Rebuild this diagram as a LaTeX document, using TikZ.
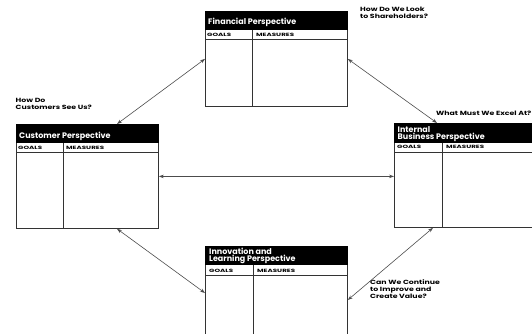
\documentclass[tikz,border=0pt]{standalone}
\usepackage{fontspec}
\setmainfont{Poppins}
\newfontfamily\qfont[FakeStretch=1.3]{Poppins}
\newfontfamily\cfont[FakeStretch=1.55]{Poppins}
\usetikzlibrary{arrows.meta,calc}
\newcommand\bscframe[8]{%
  \node[frame, minimum width=#4, minimum height=#5] (#1) at (#2,-#3) {};
  \fill[black] (#1.north west) rectangle ($(#1.north east)+(0,-#6)$);
  \draw[rule] ($(#1.north west)+(0,-#7)$) -- ($(#1.north east)+(0,-#7)$);
  \draw[rule] ($(#1.north west)+(#8,-#6)$) -- ($(#1.south west)+(#8,0)$);
}
\begin{document}
\begin{tikzpicture}[x=1pt,y=1pt,
  frame/.style={draw=black!80, line width=0.8pt, rectangle, inner sep=0pt, anchor=north west},
  rule/.style={draw=black!80, line width=0.7pt},
  htext/.style={text=white, font=\bfseries\fontsize{8}{8}\selectfont, anchor=base west, inner sep=0pt},
  col/.style={font=\cfont\bfseries\fontsize{4.6}{5}\selectfont, anchor=base west, inner sep=0pt},
  quest/.style={font=\qfont\bfseries\fontsize{6}{7}\selectfont, anchor=base west, inner sep=0pt, align=left},
  link/.style={draw=black!70, line width=0.6pt, {Stealth[length=5pt,width=3.5pt]}-{Stealth[length=5pt,width=3.5pt]}}]
\useasboundingbox (0,0) rectangle (532,-333);
\clip (0,0) rectangle (532,-333);
% boxes
\bscframe{fin}{205}{11}{142}{95}{19}{28}{47}
\bscframe{cust}{16}{124}{142}{104}{19}{28}{47}
\bscframe{int}{394}{123}{146}{104}{20}{29}{48}
\bscframe{inn}{205}{246}{142}{100}{18.5}{29}{48}
% headers
\node[htext] (finh) at (208,-24) {Financial Perspective};
\node[htext] (custh) at (19,-138) {Customer Perspective};
\node[htext] (inth1) at (397.5,-132) {Internal};
\node[htext] (inth2) at (397.5,-139.5) {Business Perspective};
\node[htext] (innh1) at (209,-254) {Innovation and};
\node[htext] (innh2) at (209,-261.5) {Learning Perspective};
% column labels
\node[col] (fing) at (207,-36) {GOALS};
\node[col] (finm) at (256,-36) {MEASURES};
\node[col] (custg) at (18,-149) {GOALS};
\node[col] (custm) at (66,-149) {MEASURES};
\node[col] (intg) at (397,-148.5) {GOALS};
\node[col] (intm) at (446,-148.5) {MEASURES};
\node[col] (inng) at (209,-272) {GOALS};
\node[col] (innm) at (257,-272) {MEASURES};
% questions
\node[quest] (q1) at (360,-18.5) {How Do We Look\\to Shareholders?};
\node[quest] (q2) at (15.5,-109.5) {How Do\\Customers See Us?};
\node[quest] (q3) at (436,-115.5) {What Must We Excel At?};
\node[quest] (q4) at (370,-298) {Can We Continue\\to Improve and\\Create Value?};
% attachment points
\coordinate (custtop) at ($(cust.north west)+(101,0)$);
\coordinate (custbot) at ($(cust.south west)+(101,0)$);
\coordinate (inttop) at ($(int.north west)+(43,0)$);
\coordinate (intbot) at ($(int.south west)+(39,0)$);
\coordinate (innl) at ($(inn.north west)+(0,-47)$);
\coordinate (innr) at ($(inn.north east)+(0,-54)$);
% connectors
\draw[link] (fin.west) -- (custtop);
\draw[link] (fin.east) -- (inttop);
\draw[link] (cust.east) -- (cust.east -| int.west);
\draw[link] (custbot) -- (innl);
\draw[link] (intbot) -- (innr);
\end{tikzpicture}
\end{document}
